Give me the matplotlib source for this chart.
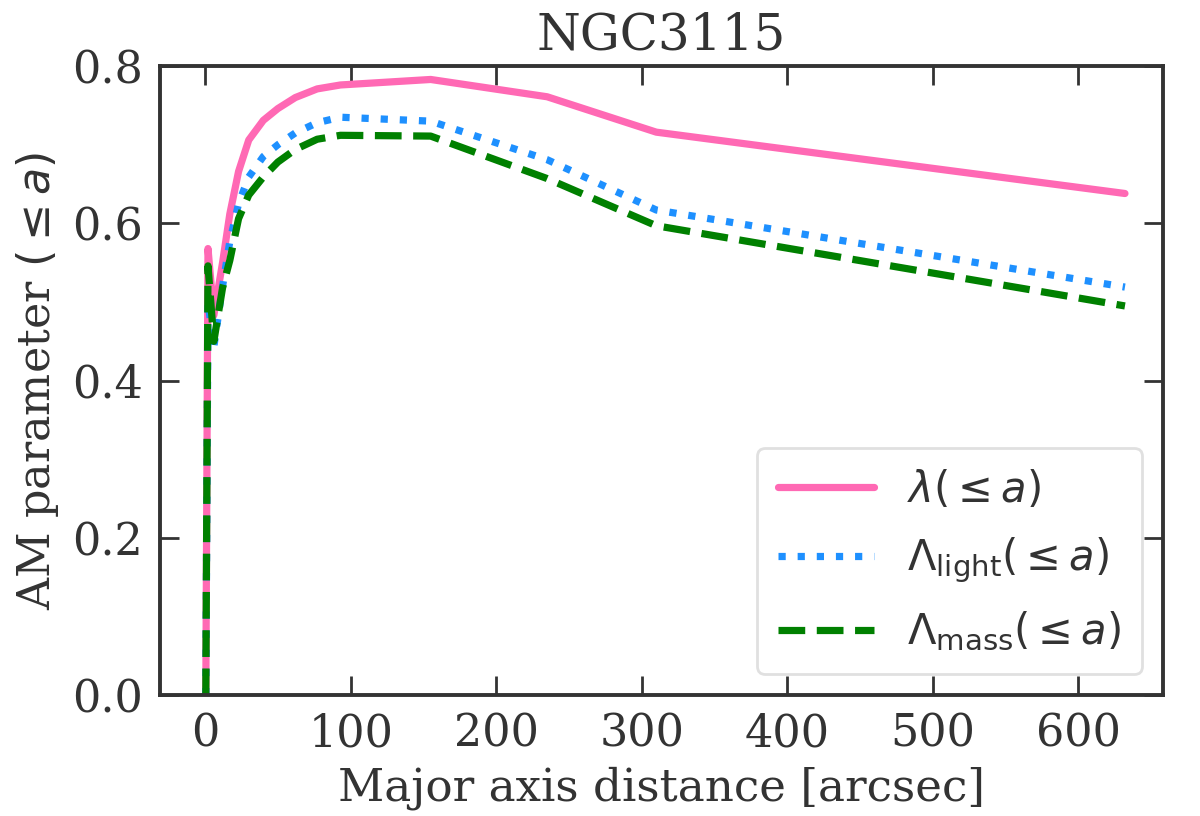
import numpy as np
import matplotlib
matplotlib.use("Agg")
import matplotlib.pyplot as plt

# radii (arcsec) and cumulative AM parameters
radius = [0.5, 2.0, 6, 12, 17, 23, 30, 40, 50, 62, 77, 93, 155, 235, 310, 632]
lam = [0.0, 0.568, 0.483, 0.550, 0.612, 0.666, 0.706, 0.731, 0.746, 0.760,
       0.771, 0.776, 0.783, 0.761, 0.716, 0.638]
lam_light = [0.0, 0.50, 0.443, 0.520, 0.577, 0.625, 0.659, 0.685, 0.700, 0.715,
             0.728, 0.735, 0.730, 0.681, 0.617, 0.519]
lam_mass = [0.0, 0.546, 0.450, 0.518, 0.553, 0.606, 0.636, 0.659, 0.678, 0.694,
            0.707, 0.712, 0.711, 0.657, 0.597, 0.495]

labels = [r'$\lambda( \leq a)$', r'$\Lambda_{\rm light}( \leq a)$',
          r'$\Lambda_{\rm mass}( \leq a)$']

dark = '#333333'
plt.rcParams['font.family'] = 'DejaVu Serif'
plt.rcParams['mathtext.fontset'] = 'dejavusans'
plt.rcParams['text.color'] = dark
plt.rcParams['axes.labelcolor'] = dark
plt.rcParams['xtick.color'] = dark
plt.rcParams['ytick.color'] = dark

fig = plt.figure(figsize=(6, 4.08), dpi=200)
ax = fig.add_axes([0.1333, 0.148, 0.8357, 0.771])

ax.plot(radius, lam, color='hotpink', lw=2.6, ls='-', label=labels[0],
        solid_capstyle='round')
ax.plot(radius, lam_light, color='dodgerblue', lw=2.6, ls=':', label=labels[1])
ax.plot(radius, lam_mass, color='green', lw=2.6, ls='--', label=labels[2])

ax.set_xlim(-31, 658)
ax.set_ylim(0, 0.8)
ax.set_xticks([0, 100, 200, 300, 400, 500, 600])
ax.set_yticks([0.0, 0.2, 0.4, 0.6, 0.8])

ax.tick_params(direction='in', top=True, right=True, length=7, width=1.0,
               labelsize=16, pad=6)
for s in ax.spines.values():
    s.set_color(dark)
    s.set_linewidth(1.4)

ax.set_xlabel('Major axis distance [arcsec]', fontsize=16.3)
ax.set_ylabel(r'AM parameter $( \leq a)$', fontsize=16)
ax.set_title('NGC3115', fontsize=18)

leg = ax.legend(loc='lower right', fontsize=15, handlelength=2.3,
                labelspacing=0.6, borderpad=0.5, fancybox=True)
leg.get_frame().set_edgecolor('0.85')

fig.savefig('out.png', dpi=200)
